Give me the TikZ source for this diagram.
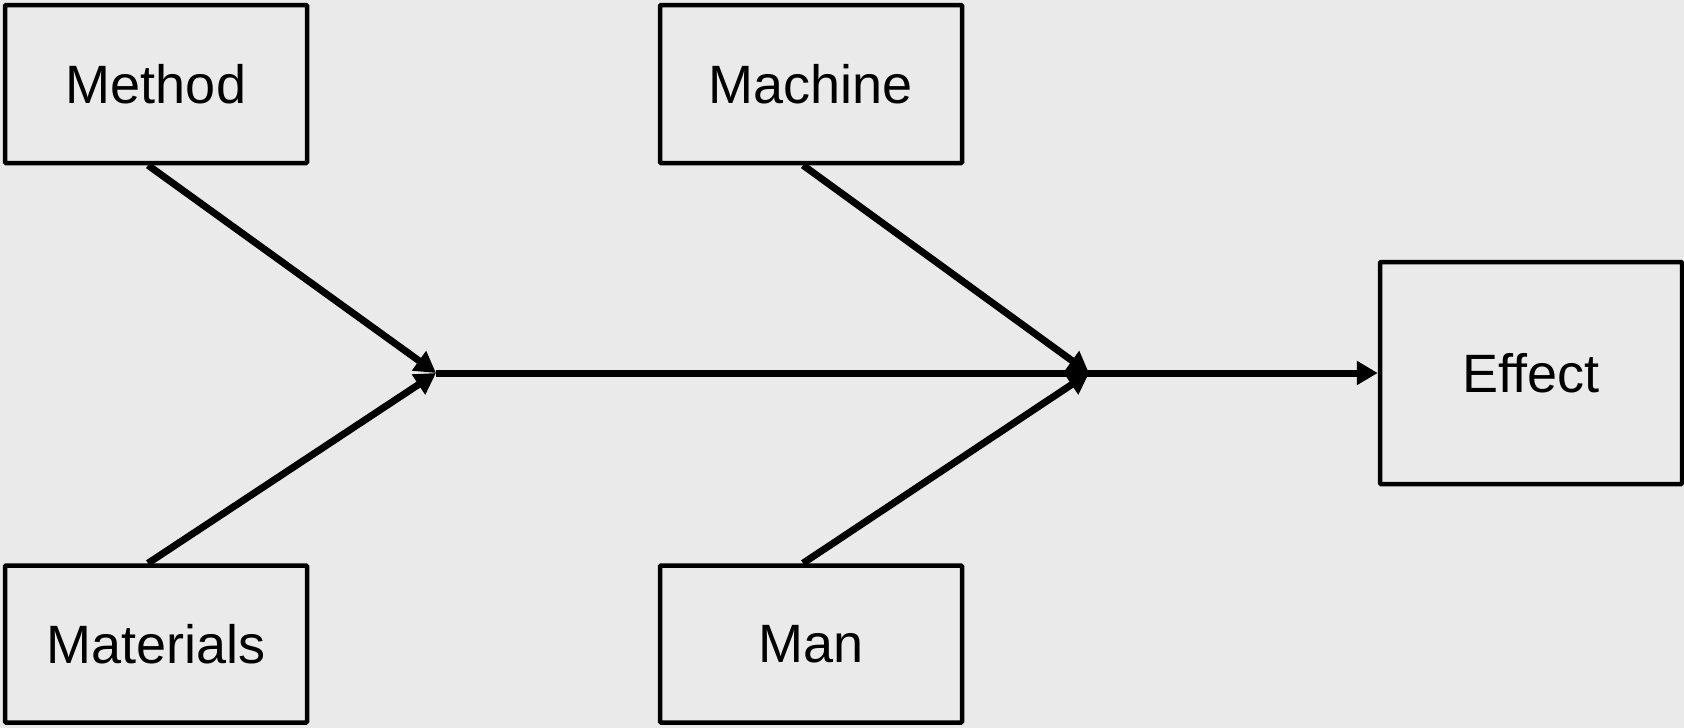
\documentclass[tikz,border=0pt]{standalone}
\usepackage{fontspec}
\setmainfont{Liberation Sans}
\usetikzlibrary{arrows.meta}
\definecolor{bg}{RGB}{234,234,234}
\begin{document}
\begin{tikzpicture}[x=1pt,y=-1pt,
  box/.style={draw, line width=4.5pt, rounded corners=1pt, inner sep=0pt, fill=bg,
    minimum width=302pt, font=\fontsize{54}{60}\selectfont},
  conn/.style={line width=7pt, -{Triangle[length=21pt,width=23pt]}}]
\fill[bg] (0,0) rectangle (1684,728);
\useasboundingbox (0,0) rectangle (1684,728);
\node[box, minimum height=158pt] (method) at (156,84) {Method};
\node[box, minimum height=158pt] (machine) at (811,84) {Machine};
\node[box, minimum height=157pt] (materials) at (156,644) {Materials};
\node[box, minimum height=157pt] (man) at (811,644) {Man};
\node[box, minimum height=222pt] (effect) at (1531,373) {Effect};
\coordinate (j1) at (436,373);
\coordinate (j2) at (1089,373);
\draw[conn] ([xshift=-8pt]method.south) -- (j1);
\draw[conn] ([xshift=-8pt]materials.north) -- (j1);
\draw[conn] ([xshift=-8pt]machine.south) -- (j2);
\draw[conn] ([xshift=-8pt]man.north) -- (j2);
\draw[conn] (j1) -- (effect.west);
\end{tikzpicture}
\end{document}
